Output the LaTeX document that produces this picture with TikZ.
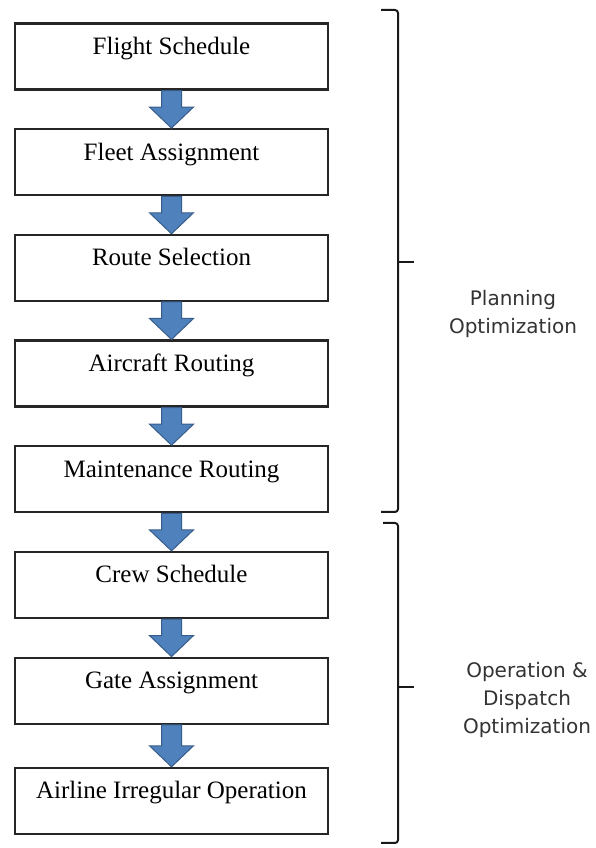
\documentclass[tikz,border=0pt]{standalone}
\usepackage{fontspec}
\setmainfont{Liberation Serif}
\newfontfamily\bracefont{DejaVu Sans}
\usepackage{xcolor}
\usepackage{tikz}
\usetikzlibrary{positioning,calc}

\definecolor{arrowfill}{HTML}{4F81BD}
\definecolor{arrowline}{HTML}{385D8A}

\tikzset{
  stepbox/.style={draw=black!85, line width=2.2pt, fill=white,
    minimum width=313pt, inner xsep=0pt, inner ysep=0pt,
    text height=31pt, text depth=35pt,
    font=\fontsize{25}{30}\selectfont},
  blockarrow/.style={fill=arrowfill, draw=arrowline, line width=1pt},
  bracket/.style={draw=black!90, line width=2pt, rounded corners=3pt},
  bracelabel/.style={align=center, text=black!80,
    font=\bracefont\fontsize{20}{28}\selectfont}
}

% block arrow from the bottom of one box to the top of the next
\newcommand{\flowarrow}[2]{%
  \filldraw[blockarrow] ($(#1.south)+(-10,0)$) -- ($(#2.north)+(-10,21)$)
    -- ($(#2.north)+(-22,21)$) -- (#2.north) -- ($(#2.north)+(22,21)$)
    -- ($(#2.north)+(10,21)$) -- ($(#1.south)+(10,0)$) -- cycle;}

\begin{document}
\begin{tikzpicture}[x=1pt, y=1pt, node distance=37.5pt]
\useasboundingbox (0,0) rectangle (596,848);

% Draw the steps
\node[stepbox] (flight) at (171.5,791.5) {Flight Schedule};
\node[stepbox, below=of flight] (fleet) {Fleet Assignment};
\node[stepbox, below=of fleet] (route) {Route Selection};
\node[stepbox, below=of route] (aircraft) {Aircraft Routing};
\node[stepbox, below=of aircraft] (maint) {Maintenance Routing};
\node[stepbox, below=of maint] (crew) {Crew Schedule};
\node[stepbox, below=of crew] (gate) {Gate Assignment};
\node[stepbox, below=42pt of gate] (irreg) {Airline Irregular Operation};

% Arrows between steps
\foreach \a/\b in {flight/fleet, fleet/route, route/aircraft, aircraft/maint,
                   maint/crew, crew/gate, gate/irreg}
  \flowarrow{\a}{\b};

% Planning bracket
\draw[bracket] (381,838) -- (398,838) -- (398,336) -- (381,336);
\draw[bracket] (398,586) -- (414,586);
\node[bracelabel] (planning) at (513,534) {Planning\\Optimization};

% Operation bracket
\draw[bracket] (383,325) -- (398,325) -- (398,5) -- (381,5);
\draw[bracket] (398,161) -- (414,161);
\node[bracelabel] (operation) at (527,148) {Operation \&\\Dispatch\\Optimization};
\end{tikzpicture}
\end{document}
